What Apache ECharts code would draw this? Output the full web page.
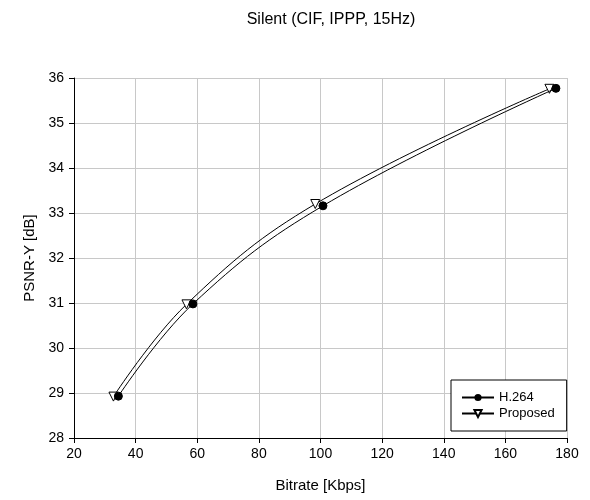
<!DOCTYPE html>
<html><head><meta charset="utf-8">
<script src="https://cdn.jsdelivr.net/npm/echarts@6/dist/echarts.min.js"></script>
<style>html,body{margin:0;padding:0;background:#fff}#c{width:590px;height:500px}</style>
</head><body><div id="c"></div>
<script>
const h264X = [34.4, 58.6, 100.8, 176.4];
const h264Y = [28.93, 30.98, 33.16, 35.77];
const propX = [32.8, 56.5, 98.3, 174.3];
const propY = [28.92, 30.97, 33.20, 35.76];
const xTicks = [20, 40, 60, 80, 100, 120, 140, 160, 180];
const yTicks = [28, 29, 30, 31, 32, 33, 34, 35, 36];

const font = 'Liberation Sans, Arial, sans-serif';
const chart = echarts.init(document.getElementById('c'));
chart.setOption({
  animation: false,
  backgroundColor: '#fff',
  title: { text: 'Silent (CIF, IPPP, 15Hz)', left: 326, top: 7, textAlign: 'center',
    textStyle: { fontFamily: font, fontSize: 16, fontWeight: 'normal', color: '#000' } },
  grid: { left: 74, right: 23, top: 78, bottom: 62 },
  legend: {
    left: 451, top: 380, orient: 'vertical', backgroundColor: '#fff',
    borderColor: '#000', borderWidth: 1, borderRadius: 0, padding: [10, 12, 10, 10],
    itemWidth: 32, itemHeight: 9, itemGap: 1, itemTextGap: 7,
    textStyle: { fontFamily: font, fontSize: 13, color: '#000', lineHeight: 15 },
    data: [{ name: 'H.264' }, { name: 'Proposed' }]
  },
  xAxis: {
    type: 'value', min: xTicks[0], max: xTicks[xTicks.length - 1], interval: 20,
    name: 'Bitrate [Kbps]', nameLocation: 'middle', nameGap: 40,
    nameTextStyle: { fontFamily: font, fontSize: 15, color: '#000' },
    axisLine: { onZero: false, lineStyle: { color: '#000', width: 1 } },
    axisTick: { show: true, length: 5, lineStyle: { color: '#000' } },
    axisLabel: { fontFamily: font, fontSize: 14, color: '#000', margin: 9 },
    splitLine: { show: true, lineStyle: { color: '#c8c8c8', width: 1 } }
  },
  yAxis: {
    type: 'value', min: yTicks[0], max: yTicks[yTicks.length - 1], interval: 1,
    name: 'PSNR-Y [dB]', nameLocation: 'middle', nameGap: 31,
    nameTextStyle: { fontFamily: font, fontSize: 15, color: '#000' },
    axisLine: { onZero: false, lineStyle: { color: '#000', width: 1 } },
    axisTick: { show: true, length: 5, lineStyle: { color: '#000' } },
    axisLabel: { fontFamily: font, fontSize: 14, color: '#000', margin: 10 },
    splitLine: { show: true, lineStyle: { color: '#c8c8c8', width: 1 } }
  },
  series: [
    {
      name: 'H.264', type: 'line', smooth: 0.4,
      data: h264X.map((x, i) => [x, h264Y[i]]),
      symbol: 'circle', symbolSize: 8,
      itemStyle: { color: '#000', borderColor: '#000' },
      lineStyle: { color: '#000', width: 1 }, z: 3
    },
    {
      name: 'Proposed', type: 'line', smooth: 0.4,
      data: propX.map((x, i) => [x, propY[i]]),
      symbol: 'triangle', symbolRotate: 180, symbolSize: 9,
      itemStyle: { color: '#fff', borderColor: '#000', borderWidth: 1 },
      lineStyle: { color: '#000', width: 1 }, z: 2
    }
  ]
});
</script>
</body></html>
